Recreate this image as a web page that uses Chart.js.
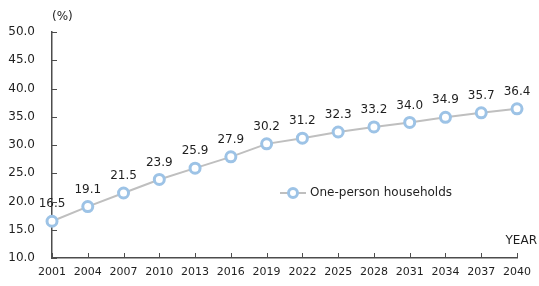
<!DOCTYPE html>
<html>
<head>
<meta charset="utf-8">
<script src="https://cdn.jsdelivr.net/npm/chart.js@4"></script>
<style>
  html, body { margin: 0; padding: 0; background: #fff; }
  #wrap { width: 539px; height: 286px; }
</style>
</head>
<body>
<div id="wrap"><canvas id="myChart"></canvas></div>
<script>
// chart data
const years = ['2001', '2004', '2007', '2010', '2013', '2016', '2019', '2022', '2025', '2028', '2031', '2034', '2037', '2040'];
const onePerson = [16.5, 19.1, 21.5, 23.9, 25.9, 27.9, 30.2, 31.2, 32.3, 33.2, 34.0, 34.9, 35.7, 36.4];
const seriesName = 'One-person households';

const FONT = '"DejaVu Sans", sans-serif';
const TEXT = '#1f1f1f';
const AXIS = '#4d4d4d';

// value labels, inward tick marks, legend, axis titles
const extrasPlugin = {
    id: 'extras',
    afterDatasetsDraw(chart) {
        const ctx = chart.ctx;
        const meta = chart.getDatasetMeta(0);
        const ds = chart.data.datasets[0];
        ctx.save();
        ctx.fillStyle = TEXT;
        ctx.font = '12px ' + FONT;
        ctx.textAlign = 'center';
        ctx.textBaseline = 'middle';
        meta.data.forEach((pt, i) => {
            ctx.fillText(ds.data[i].toFixed(1), pt.x, pt.y - 17);
        });

        // tick marks pointing into the plot
        const x = chart.scales.x, y = chart.scales.y;
        ctx.strokeStyle = AXIS;
        ctx.lineWidth = 1;
        ctx.beginPath();
        y.ticks.forEach((t, i) => {
            const py = Math.round(y.getPixelForTick(i)) + 0.5;
            ctx.moveTo(x.left, py);
            ctx.lineTo(x.left + 5, py);
        });
        x.ticks.forEach((t, i) => {
            const px = Math.round(x.getPixelForTick(i)) + 0.5;
            ctx.moveTo(px, y.bottom);
            ctx.lineTo(px, y.bottom - 5);
        });
        ctx.stroke();

        // legend inside the plot
        const lx = 280, ly = 193;
        ctx.strokeStyle = ds.borderColor;
        ctx.lineWidth = 2;
        ctx.beginPath();
        ctx.moveTo(lx, ly);
        ctx.lineTo(lx + 26, ly);
        ctx.stroke();
        ctx.beginPath();
        ctx.arc(lx + 13, ly, 4.5, 0, Math.PI * 2);
        ctx.fillStyle = '#fff';
        ctx.fill();
        ctx.strokeStyle = ds.pointBorderColor;
        ctx.lineWidth = 3;
        ctx.stroke();
        ctx.fillStyle = TEXT;
        ctx.textAlign = 'left';
        ctx.fillText(ds.label, lx + 30, ly);

        // axis titles
        ctx.fillText('(%)', 52, 17);
        ctx.textAlign = 'right';
        ctx.fillText('YEAR', 537, 241);
        ctx.restore();
    }
};

const ctx = document.getElementById('myChart').getContext('2d');
const myChart = new Chart(ctx, {
    type: 'line',
    data: {
        labels: years,
        datasets: [{
            label: seriesName,
            data: onePerson,
            borderColor: '#BFBFBF',
            borderWidth: 2,
            pointRadius: 5,
            pointBorderWidth: 3,
            pointBackgroundColor: '#ffffff',
            pointBorderColor: '#9DC3E6',
            tension: 0
        }]
    },
    options: {
        responsive: true,
        maintainAspectRatio: false,
        animation: false,
        layout: { padding: { top: 32, right: 21, left: 0, bottom: 0 } },
        plugins: {
            legend: { display: false },
            tooltip: { enabled: false }
        },
        scales: {
            x: {
                offset: false,
                grid: { display: false, drawTicks: false },
                border: { color: AXIS, width: 1.5 },
                ticks: { color: TEXT, font: { family: FONT, size: 11 }, padding: 8, maxRotation: 0, autoSkip: false },
                afterFit: s => { s.height = 28; }
            },
            y: {
                min: 10,
                max: 50,
                grid: { display: false, drawTicks: false },
                border: { color: AXIS, width: 1.5 },
                ticks: {
                    stepSize: 5,
                    color: TEXT,
                    font: { family: FONT, size: 12 },
                    padding: 17,
                    callback: v => v.toFixed(1)
                },
                afterFit: s => { s.width = 52; }
            }
        }
    },
    plugins: [extrasPlugin]
});
</script>
</body>
</html>
